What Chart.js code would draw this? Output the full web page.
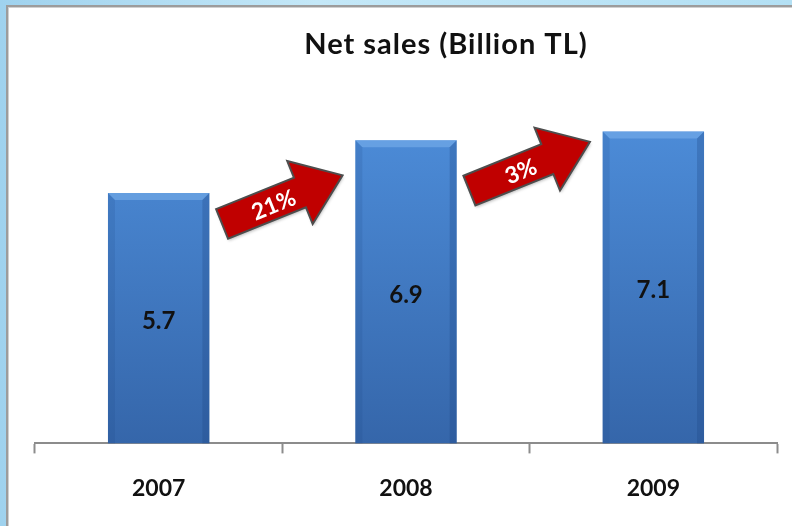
<!DOCTYPE html>
<html lang="en">
  <head>
    <meta charset="UTF-8" />
    <title>Net sales</title>
    <script src="https://cdn.jsdelivr.net/npm/chart.js@4"></script>
    <style>
      html, body { margin: 0; padding: 0; width: 792px; height: 526px; overflow: hidden; }
      body { background: linear-gradient(90deg, #9fd2ee 0%, #c4e8f8 40%, #b3e0f4 100%); position: relative; }
      .frame {
        position: absolute; left: 6px; top: 5px; width: 800px; height: 540px;
        background: #fff; border-left: 2px solid #9c9c9c; border-top: 2px solid #9c9c9c;
        box-shadow: inset 1px 1px 0 #d0d0d0;
      }
      canvas { position: absolute; left: 0; top: 0; }
    </style>
  </head>
  <body>
    <div class="frame"></div>
    <canvas id="myChart" width="792" height="526"></canvas>

    <script>
      const title = 'Net sales (Billion TL)';
      const years = ['2007', '2008', '2009'];
      const netSales = [5.7, 6.9, 7.1];
      // growth arrows sit between two years, at a height given in billion TL
      const growthLabels = ['21%', '3%'];
      const growthY = [5.55, 6.31];

      const font = 'Lato, "Open Sans", sans-serif';

      // title sits a bit right of the plot centre in the original, so draw it by hand
      const titlePlugin = {
        id: 'titlePlugin',
        afterDraw(chart) {
          const ctx = chart.ctx;
          const area = chart.chartArea;
          ctx.save();
          ctx.font = 'bold 29px ' + font;
          ctx.letterSpacing = '1px';
          ctx.fillStyle = '#111';
          ctx.textAlign = 'center';
          ctx.textBaseline = 'alphabetic';
          ctx.fillText(title, (area.left + area.right) / 2 + 40, 54);
          ctx.restore();
        }
      };

      const barLook = {
        id: 'barLook',
        afterDatasetsDraw(chart) {
          const ctx = chart.ctx;
          chart.getDatasetMeta(0).data.forEach((bar, i) => {
            const l = bar.x - bar.width / 2, r = bar.x + bar.width / 2;
            const t = bar.y, b = bar.base, e = 7;
            ctx.save();
            // light top bevel
            ctx.fillStyle = 'rgba(120,175,235,0.6)';
            ctx.beginPath();
            ctx.moveTo(l, t); ctx.lineTo(r, t); ctx.lineTo(r - e, t + e); ctx.lineTo(l + e, t + e);
            ctx.closePath(); ctx.fill();
            // darker side edges
            ctx.fillStyle = 'rgba(30,70,130,0.28)';
            ctx.beginPath();
            ctx.moveTo(r, t); ctx.lineTo(r, b); ctx.lineTo(r - e, b); ctx.lineTo(r - e, t + e);
            ctx.closePath(); ctx.fill();
            ctx.fillStyle = 'rgba(30,70,130,0.15)';
            ctx.beginPath();
            ctx.moveTo(l, t); ctx.lineTo(l + e, t + e); ctx.lineTo(l + e, b); ctx.lineTo(l, b);
            ctx.closePath(); ctx.fill();
            // value label
            ctx.fillStyle = '#111';
            ctx.font = 'bold 24px ' + font;
            ctx.textAlign = 'center';
            ctx.textBaseline = 'middle';
            ctx.fillText(netSales[i].toFixed(1), bar.x, (t + b) / 2 + 3);
            ctx.restore();
          });
        }
      };

      const growthArrows = {
        id: 'growthArrows',
        afterDraw(chart) {
          const ctx = chart.ctx;
          const xs = chart.scales.x, ys = chart.scales.y;
          growthLabels.forEach((txt, i) => {
            const cx = xs.getPixelForValue(i + 0.5);
            const cy = ys.getPixelForValue(growthY[i]);
            ctx.save();
            ctx.translate(cx, cy);
            ctx.rotate(-22 * Math.PI / 180);
            ctx.beginPath();
            ctx.moveTo(-65, -16);
            ctx.lineTo(19, -16);
            ctx.lineTo(19, -34);
            ctx.lineTo(65, 0);
            ctx.lineTo(19, 34);
            ctx.lineTo(19, 16);
            ctx.lineTo(-65, 16);
            ctx.closePath();
            ctx.shadowColor = 'rgba(0,0,0,0.25)';
            ctx.shadowBlur = 3;
            ctx.shadowOffsetX = 1;
            ctx.shadowOffsetY = 2;
            ctx.fillStyle = '#c00000';
            ctx.fill();
            ctx.shadowColor = 'transparent';
            ctx.strokeStyle = '#4d4d4d';
            ctx.lineWidth = 2;
            ctx.stroke();
            ctx.fillStyle = '#fff';
            ctx.font = 'bold 23px ' + font;
            ctx.textAlign = 'center';
            ctx.textBaseline = 'middle';
            ctx.fillText(txt, -10, 2);
            ctx.restore();
          });
        }
      };

      const ctx = document.getElementById('myChart').getContext('2d');
      new Chart(ctx, {
        type: 'bar',
        data: {
          labels: years,
          datasets: [{
            data: netSales,
            backgroundColor: c => {
              const area = c.chart.chartArea;
              if (!area) return '#4479c4';
              const g = c.chart.ctx.createLinearGradient(0, area.top, 0, area.bottom);
              g.addColorStop(0, '#4f90dd');
              g.addColorStop(1, '#3566aa');
              return g;
            },
            borderWidth: 0,
            barPercentage: 1,
            categoryPercentage: 0.41
          }]
        },
        options: {
          responsive: false,
          animation: false,
          layout: { padding: { left: 35, right: 15, top: 92, bottom: 3 } },
          plugins: {
            legend: { display: false },
            tooltip: { enabled: false },
            title: { display: false }
          },
          scales: {
            x: {
              grid: { drawOnChartArea: false, drawTicks: true, tickLength: 10, tickColor: '#8c8c8c', tickWidth: 2 },
              border: { display: true, color: '#8c8c8c', width: 2 },
              ticks: { color: '#111', padding: 21, font: { family: font, size: 23, weight: 'bold' } }
            },
            y: {
              display: false,
              min: 0,
              max: 8
            }
          }
        },
        plugins: [barLook, growthArrows, titlePlugin]
      });
    </script>
  </body>
</html>
